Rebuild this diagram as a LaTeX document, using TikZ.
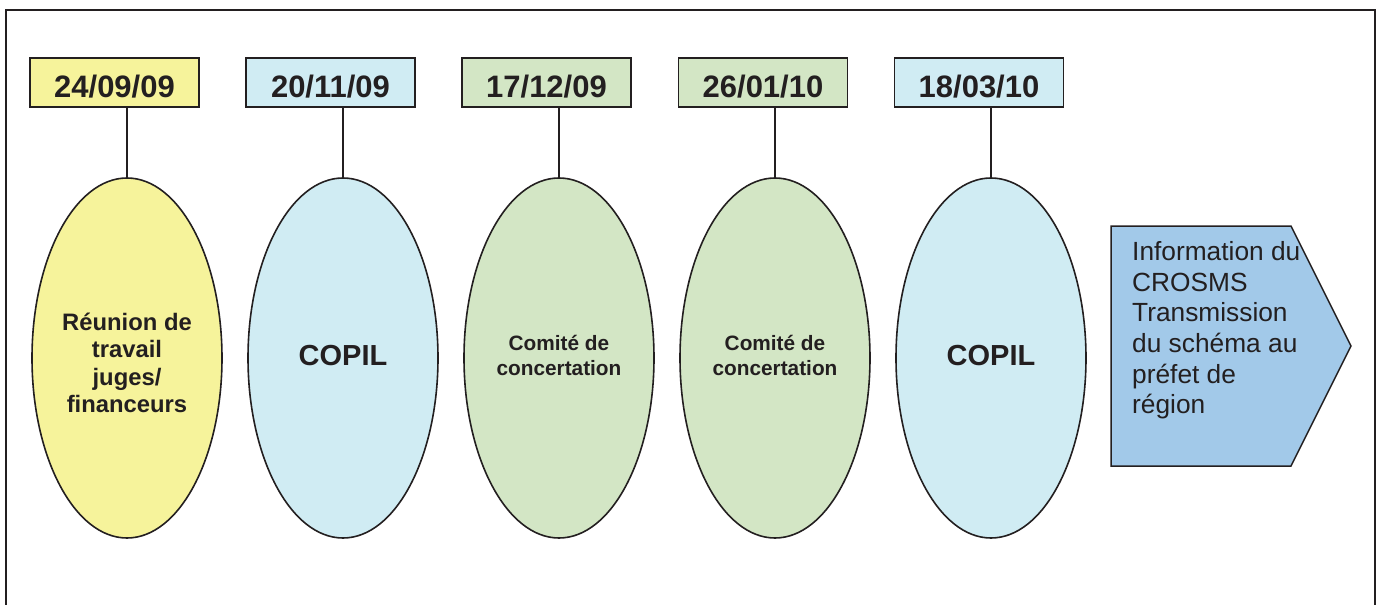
\documentclass[tikz,border=0pt]{standalone}
\usepackage{fontspec}
\setmainfont{Liberation Sans}
\usetikzlibrary{shapes.geometric}
\definecolor{ink}{RGB}{35,31,32}
\definecolor{cyel}{RGB}{246,243,155}
\definecolor{cblu}{RGB}{208,236,243}
\definecolor{cgrn}{RGB}{211,230,197}
\definecolor{carr}{RGB}{162,201,233}
\tikzset{
  datebox/.style={draw=ink, line width=1.6pt, minimum width=169pt, minimum height=49pt,
    inner sep=0pt, text=ink, font=\fontsize{31}{31}\selectfont\bfseries,
    text height=30pt, text depth=0pt},
  event/.style={ellipse, draw=ink, line width=1.6pt, minimum width=190pt, minimum height=360pt,
    inner sep=0pt},
  evtext/.style={text=ink, align=center, inner sep=0pt},
  link/.style={draw=ink, line width=1.5pt},
}
\begin{document}
\begin{tikzpicture}[x=1pt,y=-1pt]
\useasboundingbox (0,0) rectangle (1382,605);
\draw[ink, line width=2pt] (6,620) -- (6,10) -- (1375,10) -- (1375,620);

\node[datebox, fill=cyel] (d1) at (114.5,82.5) {24/09/09};
\node[datebox, fill=cblu] (d2) at (330.5,82.5) {20/11/09};
\node[datebox, fill=cgrn] (d3) at (546.5,82.5) {17/12/09};
\node[datebox, fill=cgrn] (d4) at (763,82.5) {26/01/10};
\node[datebox, fill=cblu] (d5) at (979,82.5) {18/03/10};

\node[event, fill=cyel, label={[evtext, yshift=-5pt, font=\fontsize{23.8}{27.5}\selectfont\bfseries]center:{Réunion de\\travail\\juges/\\financeurs}}] (e1) at (127,358) {};
\node[event, fill=cblu, label={[evtext, yshift=2pt, font=\fontsize{29}{30}\selectfont\bfseries]center:COPIL}] (e2) at (343,358) {};
\node[event, fill=cgrn, label={[evtext, yshift=2.5pt, font=\fontsize{20.8}{25}\selectfont\bfseries]center:{Comité de\\concertation}}] (e3) at (559,358) {};
\node[event, fill=cgrn, label={[evtext, yshift=2.5pt, font=\fontsize{20.8}{25}\selectfont\bfseries]center:{Comité de\\concertation}}] (e4) at (775,358) {};
\node[event, fill=cblu, label={[evtext, yshift=2pt, font=\fontsize{29}{30}\selectfont\bfseries]center:COPIL}] (e5) at (991,358) {};

\foreach \i in {1,...,5}{
  \draw[link] (e\i.north |- d\i.south) -- (e\i.north);
}

\draw[ink, line width=1.5pt, fill=carr] (1111,226) -- (1291,226) -- (1351,346) -- (1291,466) -- (1111,466) -- cycle;
\node[anchor=north west, inner sep=0pt, align=left, text=ink,
  font=\fontsize{26.3}{30.6}\selectfont] (info) at (1132,241.5)
  {Information du\\CROSMS\\Transmission\\du schéma au\\préfet de\\région};
\end{tikzpicture}
\end{document}
